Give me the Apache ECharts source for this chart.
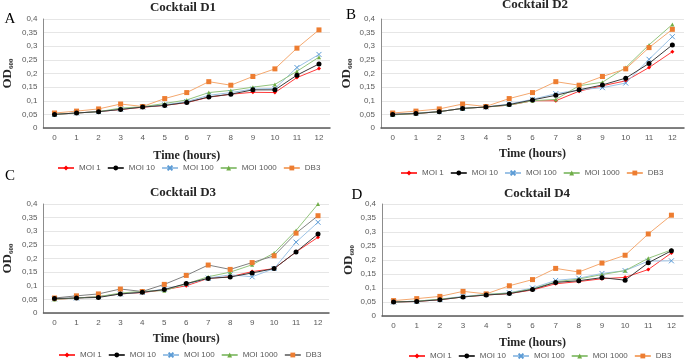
<!DOCTYPE html>
<html>
<head>
<meta charset="utf-8">
<script src="https://cdn.jsdelivr.net/npm/echarts@6/dist/echarts.min.js"></script>
<style>
  html, body { margin: 0; padding: 0; background: #fff; }
  #chart { width: 685px; height: 359px; }
</style>
</head>
<body>
<div id="chart"></div>
<script>
// hours on the x axis and tick labels on the y axis (comma decimals)
const hours = ['0', '1', '2', '3', '4', '5', '6', '7', '8', '9', '10', '11', '12']
const yTicks = ['0', '0,05', '0,1', '0,15', '0,2', '0,25', '0,3', '0,35', '0,4']
const seriesNames = ['MOI 1', 'MOI 10', 'MOI 100', 'MOI 1000', 'DB3']
const panelTitles = ['Cocktail D1', 'Cocktail D2', 'Cocktail D3', 'Cocktail D4']
const panelLetters = ['A', 'B', 'C', 'D']

// Cocktail D1
const d1Moi1 = [0.05, 0.055, 0.06, 0.068, 0.076, 0.083, 0.093, 0.113, 0.124, 0.131, 0.13, 0.185, 0.218]
const d1Moi10 = [0.05, 0.055, 0.06, 0.068, 0.077, 0.083, 0.094, 0.114, 0.124, 0.14, 0.14, 0.194, 0.235]
const d1Moi100 = [0.05, 0.055, 0.06, 0.07, 0.077, 0.085, 0.097, 0.12, 0.13, 0.143, 0.145, 0.222, 0.27]
const d1Moi1000 = [0.05, 0.055, 0.06, 0.073, 0.078, 0.09, 0.103, 0.13, 0.138, 0.15, 0.16, 0.208, 0.26]
const d1Db3 = [0.055, 0.062, 0.07, 0.088, 0.079, 0.108, 0.13, 0.17, 0.157, 0.189, 0.217, 0.293, 0.36]

// Cocktail D2
const d2Moi1 = [0.05, 0.053, 0.06, 0.072, 0.077, 0.084, 0.1, 0.1, 0.135, 0.155, 0.173, 0.222, 0.28]
const d2Moi10 = [0.05, 0.053, 0.06, 0.072, 0.077, 0.086, 0.103, 0.12, 0.14, 0.158, 0.183, 0.237, 0.305]
const d2Moi100 = [0.05, 0.055, 0.06, 0.072, 0.077, 0.088, 0.105, 0.126, 0.14, 0.148, 0.165, 0.252, 0.335]
const d2Moi1000 = [0.048, 0.053, 0.06, 0.072, 0.077, 0.084, 0.1, 0.105, 0.155, 0.168, 0.222, 0.305, 0.38]
const d2Db3 = [0.055, 0.062, 0.07, 0.088, 0.079, 0.108, 0.13, 0.17, 0.157, 0.189, 0.217, 0.295, 0.362]

// Cocktail D3
const d3Moi1 = [0.05, 0.055, 0.06, 0.07, 0.075, 0.085, 0.1, 0.127, 0.133, 0.152, 0.163, 0.224, 0.278]
const d3Moi10 = [0.053, 0.055, 0.057, 0.07, 0.076, 0.086, 0.108, 0.127, 0.132, 0.147, 0.163, 0.224, 0.29]
const d3Moi100 = [0.052, 0.055, 0.06, 0.07, 0.076, 0.088, 0.105, 0.128, 0.14, 0.133, 0.163, 0.26, 0.333]
const d3Moi1000 = [0.05, 0.055, 0.06, 0.073, 0.08, 0.082, 0.107, 0.133, 0.15, 0.177, 0.22, 0.303, 0.4]
const d3Db3 = [0.055, 0.063, 0.07, 0.088, 0.079, 0.105, 0.138, 0.176, 0.16, 0.185, 0.21, 0.293, 0.357]

// Cocktail D4
const d4Moi1 = [0.05, 0.052, 0.058, 0.068, 0.075, 0.08, 0.093, 0.115, 0.123, 0.133, 0.138, 0.166, 0.225]
const d4Moi10 = [0.05, 0.052, 0.058, 0.068, 0.075, 0.08, 0.095, 0.12, 0.126, 0.137, 0.128, 0.19, 0.233]
const d4Moi100 = [0.05, 0.053, 0.06, 0.07, 0.077, 0.083, 0.1, 0.127, 0.135, 0.152, 0.162, 0.196, 0.197]
const d4Moi1000 = [0.05, 0.053, 0.06, 0.068, 0.077, 0.082, 0.097, 0.122, 0.132, 0.148, 0.162, 0.206, 0.236]
const d4Db3 = [0.055, 0.062, 0.07, 0.088, 0.079, 0.108, 0.13, 0.17, 0.157, 0.189, 0.217, 0.293, 0.36]

const panelData = [
  [d1Moi1, d1Moi10, d1Moi100, d1Moi1000, d1Db3],
  [d2Moi1, d2Moi10, d2Moi100, d2Moi1000, d2Db3],
  [d3Moi1, d3Moi10, d3Moi100, d3Moi1000, d3Db3],
  [d4Moi1, d4Moi10, d4Moi100, d4Moi1000, d4Db3]
]

// plot areas and text positions, in pixels
const panels = [
  { left: 37, top: 19, width: 293, height: 109, cx: 183, titleY: 8, letterX: 10, letterY: 19, xGap: 22, yGap: 29, legendLeft: 57, legendTop: 164 },
  { left: 381, top: 19, width: 303, height: 109, cx: 535, titleY: 5, letterX: 351, letterY: 15, xGap: 20, yGap: 27, legendLeft: 400, legendTop: 169 },
  { left: 38, top: 204, width: 291, height: 109, cx: 183, titleY: 193, letterX: 10, letterY: 176, xGap: 20, yGap: 29, legendLeft: 58, legendTop: 351 },
  { left: 382, top: 204, width: 301, height: 112, cx: 537, titleY: 194, letterX: 357, letterY: 195, xGap: 21, yGap: 26, legendLeft: 408, legendTop: 352 }
]

const xPath = 'path://M0,0L10,10M10,0L0,10'
const styles = [
  { symbol: 'diamond', size: 4, mark: '#ff0000', line: '#ff3b3b' },
  { symbol: 'circle', size: 5, mark: '#000000', line: '#3a3a3a' },
  { symbol: xPath, size: 5, mark: '#5b9bd5', line: '#9dc3e6' },
  { symbol: 'triangle', size: 4, mark: '#70ad47', line: '#93c47d' },
  { symbol: 'rect', size: 5, mark: '#ed7d31', line: '#f4a86f' }
]
const d3Db3Line = '#808080'

const serif = 'Liberation Serif'
const sans = 'Liberation Sans'

const chart = echarts.init(document.getElementById('chart'), null, { renderer: 'canvas' })

const grid = panels.map(p => ({ left: p.left, top: p.top, width: p.width, height: p.height }))

const xAxis = panels.map((p, i) => ({
  type: 'category',
  gridIndex: i,
  data: hours,
  boundaryGap: true,
  name: 'Time (hours)',
  nameLocation: 'middle',
  nameGap: p.xGap,
  nameTextStyle: { fontFamily: serif, fontWeight: 'bold', fontSize: 12, color: '#262626' },
  axisTick: { show: false },
  axisLine: { lineStyle: { color: '#595959', width: 1.5 } },
  axisLabel: { fontFamily: sans, fontSize: 8, color: '#595959', margin: 6 }
}))

const yAxis = panels.map((p, i) => ({
  type: 'value',
  gridIndex: i,
  min: 0,
  max: 0.4,
  interval: 0.05,
  name: '{a|OD}{b|600}',
  nameLocation: 'middle',
  nameRotate: 90,
  nameGap: p.yGap,
  nameTextStyle: {
    rich: {
      a: { fontFamily: serif, fontWeight: 'bold', fontSize: 13, lineHeight: 14, color: '#262626' },
      b: { fontFamily: serif, fontWeight: 'bold', fontSize: 7, lineHeight: 6, verticalAlign: 'bottom', color: '#262626' }
    }
  },
  axisTick: { show: false },
  axisLine: { show: true, lineStyle: { color: '#8c8c8c', width: 1 } },
  splitLine: { lineStyle: { color: '#e6e6e6', width: 1 } },
  axisLabel: {
    fontFamily: sans,
    fontSize: 8,
    color: '#595959',
    margin: 6,
    formatter: v => yTicks[Math.round(v / 0.05)]
  }
}))

const series = []
panelData.forEach((rows, i) => {
  rows.forEach((vals, j) => {
    const st = styles[j]
    const lineColor = (i === 2 && j === 4) ? d3Db3Line : st.line
    series.push({
      name: seriesNames[j],
      type: 'line',
      xAxisIndex: i,
      yAxisIndex: i,
      data: vals,
      symbol: st.symbol,
      symbolSize: st.size,
      showAllSymbol: true,
      animation: false,
      z: j === 1 ? 3 : 2,
      lineStyle: { color: lineColor, width: 1 },
      itemStyle: { color: st.mark, borderColor: st.mark, borderWidth: st.symbol === xPath ? 1 : 0 },
      emphasis: { disabled: true }
    })
  })
})

const legend = panels.map((p, i) => ({
  left: p.legendLeft,
  top: p.legendTop,
  width: 320,
  padding: 0,
  itemWidth: 16,
  itemHeight: 6,
  itemGap: 6,
  selectedMode: false,
  textStyle: { fontFamily: sans, fontSize: 8, color: '#595959' },
  data: seriesNames.map((n, j) => (i === 2 && j === 4)
    ? { name: n, lineStyle: { color: d3Db3Line } }
    : { name: n })
}))

const graphic = []
panels.forEach((p, i) => {
  graphic.push({
    type: 'text',
    x: p.cx,
    y: p.titleY,
    style: { text: panelTitles[i], font: 'bold 13px "Liberation Serif"', fill: '#262626', align: 'center', verticalAlign: 'middle' }
  })
  graphic.push({
    type: 'text',
    x: p.letterX,
    y: p.letterY,
    style: { text: panelLetters[i], font: '15px "Liberation Serif"', fill: '#000', align: 'center', verticalAlign: 'middle' }
  })
})

chart.setOption({
  animation: false,
  grid,
  xAxis,
  yAxis,
  legend,
  series,
  graphic
})
</script>
</body>
</html>
